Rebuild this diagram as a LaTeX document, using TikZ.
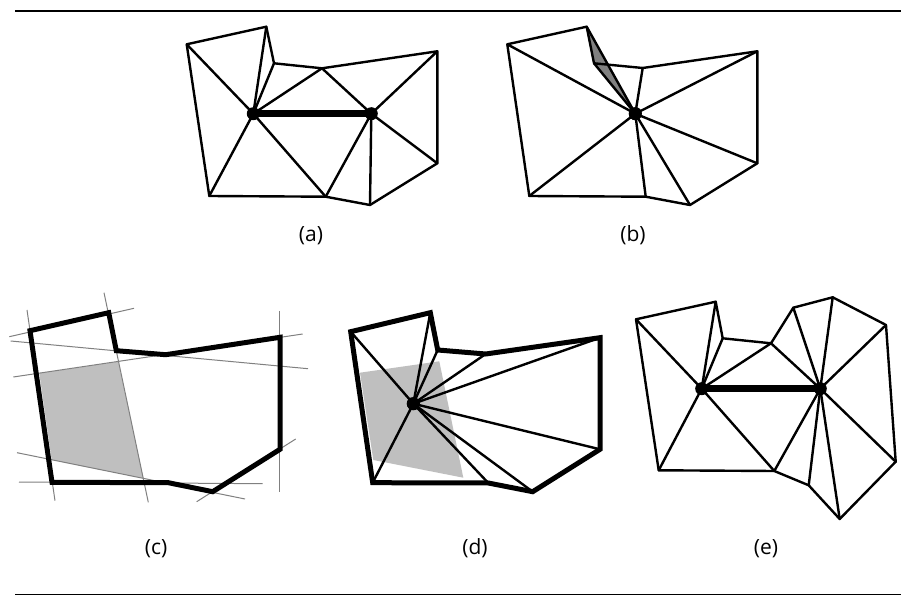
\documentclass[tikz,border=0pt]{standalone}
\usepackage{fontspec}
\setmainfont{Open Sans}
\tikzset{
  mesh/.style={draw=black,line width=2.4pt,line join=round,line cap=round},
  hull/.style={draw=black,line width=5pt,line join=miter},
  guide/.style={draw=black!50,line width=1pt},
  heavy/.style={draw=black,line width=7pt},
  vtx/.style={circle,fill=black,inner sep=0pt,minimum size=13pt},
  region/.style={fill=black!25,draw=none},
  figlabel/.style={font=\fontsize{21}{25}\selectfont,inner sep=0pt},
  rulebar/.style={draw=black,line width=1.2pt}
}
\begin{document}
\begin{tikzpicture}[x=1pt,y=-1pt]
\useasboundingbox (0,0) rectangle (922,604);
\fill[white] (0,0) rectangle (922,604);
\coordinate (r1) at (15,11); \coordinate (r2) at (901,11);
\coordinate (r3) at (15,594.7); \coordinate (r4) at (901,594.7);
\draw[rulebar] (r1)--(r2); \draw[rulebar] (r3)--(r4);
% (a)
\foreach \n/\x/\y in {1/186.7/44.3,2/266.3/26.7,3/274/63.3,4/322/68.3,5/437.3/51.3,6/437.3/163.3,7/370/205,8/325.7/196.7,9/209.3/196}
  \coordinate (a\n) at (\x,\y);
\draw[mesh] (a1)--(a2)--(a3)--(a4)--(a5)--(a6)--(a7)--(a8)--(a9)--cycle;
\node[vtx] (au) at (253.3,113.7) {};
\node[vtx] (av) at (371.3,113.7) {};
\foreach \n in {1,2,3,4,8,9} \draw[mesh] (au.center)--(a\n);
\foreach \n in {4,5,6,7,8} \draw[mesh] (av.center)--(a\n);
\draw[heavy] (au.center)--(av.center);
\node[figlabel] (la) at (311,235.5) {(a)};
% (b)
\foreach \n/\x/\y in {1/507.3/44.3,2/586.7/26.7,3/594/63.3,4/642.7/68,5/757.3/51.3,6/757.3/163.3,7/690/205,8/645.7/196.7,9/529.3/196}
  \coordinate (b\n) at (\x,\y);
\node[vtx] (bw) at (635.3,113.7) {};
\fill[black!50] (b2)--(b3)--(bw.center)--cycle;
\draw[mesh] (b1)--(b2)--(b3)--(b4)--(b5)--(b6)--(b7)--(b8)--(b9)--cycle;
\foreach \n in {1,2,3,4,5,6,7,8,9} \draw[mesh] (bw.center)--(b\n);
\node[vtx] at (bw) {};
\node[figlabel] (lb) at (633,235.5) {(b)};
% (c)
\foreach \n/\x/\y in {1/30/330.7,2/108.7/312.7,3/116.3/350.7,4/165.7/354.7,5/280/337.3,6/280/449.3,7/212.7/491.7,8/168.3/482.7,9/52/482.3}
  \coordinate (c\n) at (\x,\y);
\fill[region] (39.3,373.3)--(118.3,361.7)--(143.3,478.3)--(51.7,460)--cycle;
\draw[guide] (9.3,336.7)--(134,308.3);
\draw[guide] (104,292.7)--(148.3,502.3);
\draw[guide] (10.7,341)--(308,368.7);
\draw[guide] (13.3,377)--(302.7,334);
\draw[guide] (279.3,311)--(279.3,492);
\draw[guide] (196.7,501.7)--(295.7,439);
\draw[guide] (17,452.7)--(245,499);
\draw[guide] (19,482)--(262.7,483.7);
\draw[guide] (27,310)--(55,500.7);
\draw[hull] (c1)--(c2)--(c3)--(c4)--(c5)--(c6)--(c7)--(c8)--(c9)--cycle;
\node[figlabel] (lc) at (156,548.5) {(c)};
% (d)
\foreach \n/\x/\y in {1/350.7/331.7,2/430.3/312.7,3/437.7/350,4/485.7/354,5/600/337.7,6/600/449.3,7/532.7/491.7,8/488.3/483,9/372.7/482.7}
  \coordinate (d\n) at (\x,\y);
\fill[region] (360,372.7)--(439.3,361.3)--(463.3,477.7)--(373.3,460)--cycle;
\node[vtx] (dw) at (413.3,403.7) {};
\foreach \n in {1,2,3,4,5,6,7,8,9} \draw[mesh] (dw.center)--(d\n);
\draw[hull] (d1)--(d2)--(d3)--(d4)--(d5)--(d6)--(d7)--(d8)--(d9)--cycle;
\node[vtx] at (dw) {};
\node[figlabel] (ld) at (475,548.5) {(d)};
% (e)
\foreach \n/\x/\y in {1/636/319.3,2/715.7/301.7,3/722.7/338.3,4/771/343.3,5/793.3/307.7,6/832.7/297.3,7/886/325,8/895.7/461.7,9/839.7/519,10/808.7/485.3,11/774.3/471,12/658.7/470.3}
  \coordinate (e\n) at (\x,\y);
\draw[mesh] (e1)--(e2)--(e3)--(e4)--(e5)--(e6)--(e7)--(e8)--(e9)--(e10)--(e11)--(e12)--cycle;
\node[vtx] (eu) at (701.7,388.7) {};
\node[vtx] (ev) at (820.3,388.7) {};
\foreach \n in {1,2,3,4,11,12} \draw[mesh] (eu.center)--(e\n);
\foreach \n in {4,5,6,7,8,9,10,11} \draw[mesh] (ev.center)--(e\n);
\draw[heavy] (eu.center)--(ev.center);
\node[figlabel] (le) at (766,548.5) {(e)};
\end{tikzpicture}
\end{document}
